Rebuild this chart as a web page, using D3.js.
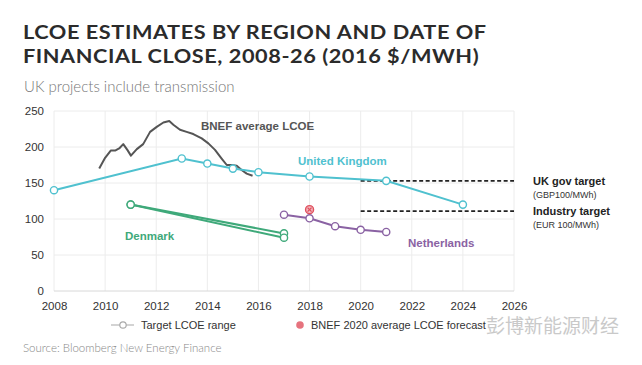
<!DOCTYPE html>
<html>
<head>
<meta charset="utf-8">
<script src="https://cdn.jsdelivr.net/npm/d3@7"></script>
<style>
  html, body { margin: 0; padding: 0; background: #fff; }
  svg { display: block; }
</style>
</head>
<body>
<svg id="chart" width="642" height="365"></svg>
<script>
// ---- Data ----
const xTicks = [2008, 2010, 2012, 2014, 2016, 2018, 2020, 2022, 2024, 2026];
const yTicks = [0, 50, 100, 150, 200, 250];

const ukYears = [2008, 2013, 2014, 2015, 2016, 2018, 2021, 2024];
const ukValues = [140, 184, 177, 170, 165, 159, 153, 120];

const dkYearsA = [2011, 2017];
const dkValuesA = [120, 80];
const dkYearsB = [2011, 2017];
const dkValuesB = [120, 74];

const nlYears = [2017, 2018, 2019, 2020, 2021];
const nlValues = [106, 101, 90, 85, 82];

const bnefYears = [2009.77, 2010.0, 2010.22, 2010.39, 2010.55, 2010.71, 2010.87, 2011.01, 2011.24, 2011.49,
  2011.76, 2012.02, 2012.28, 2012.51, 2012.67, 2012.93, 2013.19, 2013.45, 2013.78, 2014.04,
  2014.30, 2014.56, 2014.76, 2014.95, 2015.15, 2015.34, 2015.54, 2015.77];
const bnefValues = [170, 185, 195, 195, 198, 204, 196, 188, 197, 204,
  221, 228, 234, 236, 231, 224, 221, 218, 212, 205,
  196, 184, 175, 175, 174, 168, 163, 160];

const forecastYear = [2018];
const forecastValue = [113];

const targetNames = ["UK gov target", "Industry target"];
const targetNotes = ["(GBP100/MWh)", "(EUR 100/MWh)"];
const targetValues = [153, 111];
const targetStart = 2020;

// ---- Setup ----
const svg = d3.select("#chart");
const x = d3.scaleLinear().domain([2008, 2026]).range([54, 514]);
const y = d3.scaleLinear().domain([0, 250]).range([291, 111]);

const C = {
  uk: "#4fc1cf", dk: "#3fa97a", nl: "#8a62a3", bnef: "#555555", red: "#e0505e",
  grid: "#ececec", axisText: "#333", title: "#2b2b2b", sub: "#888"
};

// Title (horizontally scaled to match the reference's wide bold face)
const title = svg.append("g").attr("font-family", "Lato, 'Open Sans', sans-serif")
  .attr("font-weight", 700).attr("fill", C.title);
const t1 = title.append("text").attr("x", 0).attr("y", 39).attr("font-size", 19.5)
  .attr("letter-spacing", 0.5).text("LCOE ESTIMATES BY REGION AND DATE OF");
const t2 = title.append("text").attr("x", 0).attr("y", 63).attr("font-size", 19.5)
  .attr("letter-spacing", 0.5).text("FINANCIAL CLOSE, 2008-26 (2016 $/MWH)");
const w1 = t1.node().getComputedTextLength();
const sx = 464 / w1;
title.attr("transform", `translate(23,0) scale(${sx},1)`);

svg.append("text").attr("x", 24).attr("y", 92)
  .attr("font-family", "Lato, 'Open Sans', sans-serif").attr("font-weight", 300)
  .attr("font-size", 15).attr("fill", "#777")
  .text("UK projects include transmission");

// Gridlines
svg.append("g").selectAll("line.v").data(xTicks).join("line")
  .attr("x1", d => x(d)).attr("x2", d => x(d)).attr("y1", y(250)).attr("y2", y(0))
  .attr("stroke", C.grid).attr("stroke-width", 1);
svg.append("g").selectAll("line.h").data(yTicks).join("line")
  .attr("x1", x(2008)).attr("x2", x(2026)).attr("y1", d => y(d)).attr("y2", d => y(d))
  .attr("stroke", d => d === 0 ? "#d8d8d8" : C.grid).attr("stroke-width", 1);

// Axes
const xAxis = svg.append("g").attr("transform", `translate(0,${y(0)})`)
  .call(d3.axisBottom(x).tickValues(xTicks).tickFormat(d3.format("d")).tickSize(0).tickPadding(11));
const yAxis = svg.append("g").attr("transform", `translate(${x(2008)},0)`)
  .call(d3.axisLeft(y).tickValues(yTicks).tickSize(0).tickPadding(10));
[xAxis, yAxis].forEach(a => {
  a.select(".domain").remove();
  a.selectAll("text").attr("font-family", "'Liberation Sans', Arial, sans-serif")
    .attr("font-size", 11.5).attr("fill", C.axisText);
});

// Target dashed lines
svg.append("g").selectAll("line").data(targetValues).join("line")
  .attr("x1", x(targetStart)).attr("x2", x(2026)).attr("y1", d => y(d)).attr("y2", d => y(d))
  .attr("stroke", "#222").attr("stroke-width", 1.6).attr("stroke-dasharray", "4,2.5");

const line = d3.line().x(d => x(d[0])).y(d => y(d[1]));

// BNEF average
svg.append("path").datum(d3.zip(bnefYears, bnefValues)).attr("d", line)
  .attr("fill", "none").attr("stroke", C.bnef).attr("stroke-width", 2).attr("stroke-linejoin", "round");

function series(years, values, color) {
  const data = d3.zip(years, values);
  svg.append("path").datum(data).attr("d", line)
    .attr("fill", "none").attr("stroke", color).attr("stroke-width", 2);
  svg.append("g").selectAll("circle").data(data).join("circle")
    .attr("cx", d => x(d[0])).attr("cy", d => y(d[1])).attr("r", 3.6)
    .attr("fill", "#fff").attr("stroke", color).attr("stroke-width", 1.4);
}
series(ukYears, ukValues, C.uk);
series(dkYearsA, dkValuesA, C.dk);
series(dkYearsB, dkValuesB, C.dk);
series(nlYears, nlValues, C.nl);

// forecast marker
const fg = svg.append("g").selectAll("g").data(d3.zip(forecastYear, forecastValue)).join("g")
  .attr("transform", d => `translate(${x(d[0])},${y(d[1])})`);
fg.append("circle").attr("r", 4).attr("fill", "#f2b8bd").attr("stroke", C.red).attr("stroke-width", 1.4);
fg.append("path").attr("d", "M-2,-2L2,2M-2,2L2,-2").attr("stroke", C.red).attr("stroke-width", 1.3);

// Series labels
const lab = (tx, ty, txt, col) => svg.append("text").attr("x", tx).attr("y", ty)
  .attr("font-family", "'Liberation Sans', Arial, sans-serif").attr("font-weight", 700)
  .attr("font-size", 11.5).attr("fill", col).text(txt);
lab(201, 130, "BNEF average LCOE", "#555");
lab(298, 165, "United Kingdom", C.uk);
lab(125, 240, "Denmark", C.dk);
lab(408, 247, "Netherlands", C.nl);

// Target labels
targetNames.forEach((n, i) => {
  const ty = y(targetValues[i]);
  svg.append("text").attr("x", 533).attr("y", ty + 4)
    .attr("font-family", "'Liberation Sans', Arial, sans-serif").attr("font-weight", 700)
    .attr("font-size", 11).attr("fill", "#222").text(n);
  svg.append("text").attr("x", 533).attr("y", ty + 17)
    .attr("font-family", "'Liberation Sans', Arial, sans-serif")
    .attr("font-size", 9).attr("fill", "#333").text(targetNotes[i]);
});

// Legend
const lg = svg.append("g").attr("font-family", "'Liberation Sans', Arial, sans-serif")
  .attr("font-size", 11).attr("fill", "#333");
lg.append("line").attr("x1", 111).attr("x2", 134).attr("y1", 325).attr("y2", 325)
  .attr("stroke", "#bbb").attr("stroke-width", 1.3);
lg.append("circle").attr("cx", 123).attr("cy", 325).attr("r", 3.2)
  .attr("fill", "#fff").attr("stroke", "#aaa").attr("stroke-width", 1.2);
lg.append("text").attr("x", 141).attr("y", 329).text("Target LCOE range");
lg.append("circle").attr("cx", 300).attr("cy", 325).attr("r", 3.8).attr("fill", C.red).attr("opacity", 0.8);
lg.append("text").attr("x", 311).attr("y", 329).text("BNEF 2020 average LCOE forecast");

// Watermark
svg.append("text").attr("x", 486).attr("y", 333)
  .attr("font-family", "'Noto Sans CJK SC', sans-serif").attr("font-size", 19)
  .attr("fill", "#c4c4c4").attr("opacity", 0.9).text("彭博新能源财经");

// Source
svg.append("text").attr("x", 23).attr("y", 352)
  .attr("font-family", "Lato, 'Open Sans', sans-serif").attr("font-weight", 300)
  .attr("font-size", 11.5).attr("fill", "#888")
  .text("Source:  Bloomberg New Energy Finance");
</script>
</body>
</html>
